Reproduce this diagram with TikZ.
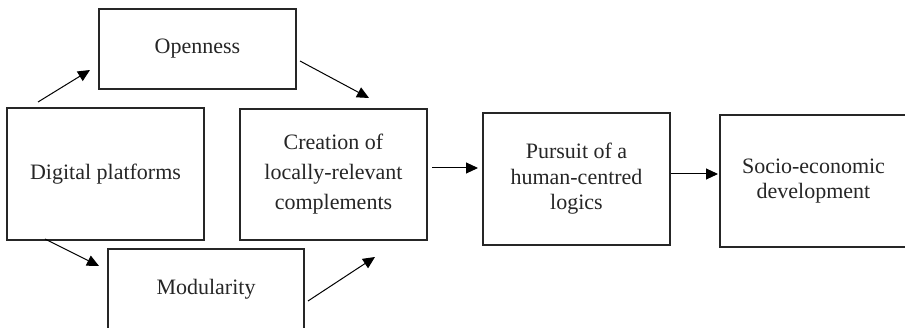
\documentclass[tikz,border=0pt]{standalone}
\usepackage{fontspec}
\setmainfont{Liberation Serif}
\usetikzlibrary{arrows.meta}
\begin{document}
\begin{tikzpicture}[x=1pt,y=-1pt,
  box/.style={draw=black!85,line width=1.6pt,inner sep=0pt,align=center,
    text=black!85,font=\fontsize{22}{25.5}\selectfont},
  arr/.style={line width=1pt,-{Triangle[length=12pt,width=11pt]}}]
\clip (0,0) rectangle (905,328);
\fill[white] (0,0) rectangle (905,328);
\node[box,minimum width=197pt,minimum height=80pt] (open) at (197.5,49) {Openness};
\node[box,minimum width=197pt,minimum height=132pt] (dig) at (105.5,174) {Digital platforms};
\node[box,minimum width=187pt,minimum height=131pt,font=\fontsize{22}{30}\selectfont] (cre) at (333.5,174.5) {Creation of\\locally-relevant\\complements};
\node[box,minimum width=196pt,minimum height=80pt] (mod) at (206,289) {Modularity};
\node[box,minimum width=187pt,minimum height=132pt] (pur) at (576.5,179) {Pursuit of a\\human-centred\\logics};
\node[box,minimum width=187pt,minimum height=132pt] (soc) at (813.5,181) {Socio-economic\\development};
\coordinate (a1s) at (38,102);  \coordinate (a1e) at (90,70);
\coordinate (a2s) at (300,61);  \coordinate (a2e) at (369,98);
\coordinate (a3s) at (45,239);  \coordinate (a3e) at (99,266);
\coordinate (a4s) at (308,301); \coordinate (a4e) at (375,257);
\coordinate (a5s) at (432,168); \coordinate (a5e) at (478,168);
\coordinate (a6s) at (671,174); \coordinate (a6e) at (718,174);
\draw[arr] (a1s) -- (a1e);
\draw[arr] (a2s) -- (a2e);
\draw[arr] (a3s) -- (a3e);
\draw[arr] (a4s) -- (a4e);
\draw[arr] (a5s) -- (a5e);
\draw[arr] (a6s) -- (a6e);
\end{tikzpicture}
\end{document}
